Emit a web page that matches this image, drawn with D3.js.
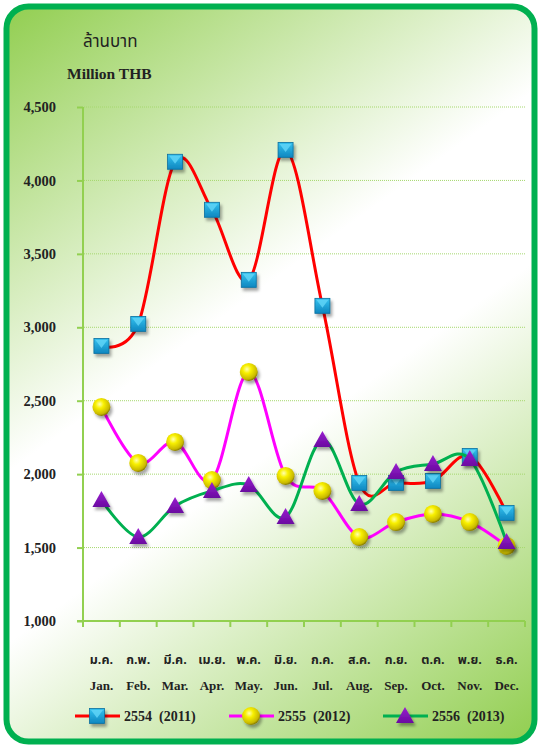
<!DOCTYPE html>
<html><head><meta charset="utf-8">
<script src="https://cdn.jsdelivr.net/npm/d3@7"></script>
<style>html,body{margin:0;padding:0;background:#fff;}svg{display:block;}</style>
</head><body>
<script>
const monthsTh = ["ม.ค.","ก.พ.","มี.ค.","เม.ย.","พ.ค.","มิ.ย.","ก.ค.","ส.ค.","ก.ย.","ต.ค.","พ.ย.","ธ.ค."];
const monthsEn = ["Jan.","Feb.","Mar.","Apr.","May.","Jun.","Jul.","Aug.","Sep.","Oct.","Nov.","Dec."];
const y2554 = [2873, 3023, 4127, 3800, 3323, 4208, 3146, 1940, 1940, 1954, 2124, 1736];
const y2555 = [2458, 2076, 2219, 1960, 2696, 1988, 1886, 1572, 1674, 1729, 1674, 1511];
const y2556 = [1824, 1572, 1783, 1886, 1926, 1708, 2233, 1797, 2015, 2069, 2103, 1538];
const yTicks = [1000, 1500, 2000, 2500, 3000, 3500, 4000, 4500];
const seriesNames = ["2554  (2011)", "2555  (2012)", "2556  (2013)"];

const W = 541, H = 746;
const svg = d3.select("body").append("svg").attr("width", W).attr("height", H);
const defs = svg.append("defs");

const bg = defs.append("linearGradient").attr("id","bg").attr("gradientUnits","userSpaceOnUse")
  .attr("x1",0).attr("y1",0).attr("x2",541).attr("y2",746);
[[0,"#8fcd4c"],[0.42,"#ffffff"],[0.57,"#ffffff"],[1,"#8fcd4c"]].forEach(s=>bg.append("stop").attr("offset",s[0]).attr("stop-color",s[1]));

const sq = defs.append("linearGradient").attr("id","sq").attr("x1",0).attr("y1",0).attr("x2",0).attr("y2",1);
[[0,"#35c3f0"],[1,"#0e86bf"]].forEach(s=>sq.append("stop").attr("offset",s[0]).attr("stop-color",s[1]));
const ball = defs.append("radialGradient").attr("id","ball").attr("cx",0.4).attr("cy",0.35).attr("r",0.65);
[[0,"#ffffb0"],[0.35,"#f8f000"],[0.85,"#c8b800"],[1,"#8a7e00"]].forEach(s=>ball.append("stop").attr("offset",s[0]).attr("stop-color",s[1]));
const tri = defs.append("linearGradient").attr("id","tri").attr("x1",0).attr("y1",0).attr("x2",0).attr("y2",1);
[[0,"#9a1ed0"],[1,"#6a0aa0"]].forEach(s=>tri.append("stop").attr("offset",s[0]).attr("stop-color",s[1]));
const sh = defs.append("filter").attr("id","sh").attr("x","-50%").attr("y","-50%").attr("width","200%").attr("height","200%");
sh.append("feDropShadow").attr("dx",2).attr("dy",3).attr("stdDeviation",1.5).attr("flood-color","#000").attr("flood-opacity",0.35);

// frame
svg.append("rect").attr("x",6.5).attr("y",6.5).attr("width",528).attr("height",735).attr("rx",22)
  .attr("fill","url(#bg)").attr("stroke","#00b050").attr("stroke-width",6);

const x = d3.scaleBand().domain(d3.range(12)).range([83, 525]);
const y = d3.scaleLinear().domain([1000, 4500]).range([621, 107]);
const cx = i => x(i) + x.bandwidth()/2;

const serif = "'Liberation Serif','Times New Roman',serif";
const thaiFont = "'Noto Sans Thai','Loma','Garuda','Tlwg Typo','Noto Sans','DejaVu Sans',sans-serif";

// grid
svg.append("g").selectAll("line").data(yTicks.slice(1)).join("line")
  .attr("x1",84).attr("x2",525).attr("y1",d=>y(d)).attr("y2",d=>y(d))
  .attr("stroke","#a6d86e").attr("stroke-width",1).attr("stroke-dasharray","1,1");

// y axis
const yAxis = svg.append("g").attr("transform","translate(83,0)")
  .call(d3.axisLeft(y).tickValues(yTicks).tickFormat(d3.format(",")).tickSize(6).tickPadding(21));
yAxis.select(".domain").attr("stroke","#92d050").attr("stroke-width",2).attr("d","M0,107V627");
yAxis.selectAll(".tick line").attr("stroke","#92d050").attr("stroke-width",2);
yAxis.selectAll(".tick text").attr("font-family",serif).attr("font-weight","bold").attr("font-size",14.5).attr("fill","#222");

// x axis
const xAxis = svg.append("g").attr("transform","translate(0,621)");
xAxis.append("line").attr("x1",77).attr("x2",525).attr("y1",0).attr("y2",0).attr("stroke","#92d050").attr("stroke-width",2);
xAxis.selectAll("line.t").data(d3.range(1,13)).join("line").attr("class","t")
  .attr("x1",i=>x(0)+i*x.bandwidth()).attr("x2",i=>x(0)+i*x.bandwidth()).attr("y1",0).attr("y2",6)
  .attr("stroke","#92d050").attr("stroke-width",2);
svg.append("g").selectAll("text").data(monthsTh).join("text")
  .attr("x",(d,i)=>cx(i)).attr("y",664).attr("text-anchor","middle")
  .attr("font-family",thaiFont).attr("font-weight","bold").attr("font-size",12.5).attr("fill","#222").text(d=>d);
svg.append("g").selectAll("text").data(monthsEn).join("text")
  .attr("x",(d,i)=>cx(i)).attr("y",690).attr("text-anchor","middle")
  .attr("font-family",serif).attr("font-weight","bold").attr("font-size",13).attr("fill","#222").text(d=>d);

// titles
svg.append("text").attr("x",83).attr("y",47).attr("font-family",thaiFont).attr("font-size",17).attr("fill","#222").text("ล้านบาท");
svg.append("text").attr("x",67).attr("y",79).attr("font-family",serif).attr("font-weight","bold").attr("font-size",15.5).attr("fill","#222").text("Million THB");

// markers
function drawSquare(g, px, py) {
  const s = 15;
  const m = g.append("g").attr("transform",`translate(${px},${py})`).attr("filter","url(#sh)");
  m.append("rect").attr("x",-s/2).attr("y",-s/2).attr("width",s).attr("height",s).attr("fill","url(#sq)").attr("stroke","#0b6f9e").attr("stroke-width",0.8);
  m.append("path").attr("d",`M${-s/2+1.5},${-s/2+1.5}L${s/2-1.5},${-s/2+1.5}L0,2Z`).attr("fill","#63d6f8").attr("opacity",0.8);
}
function drawBall(g, px, py) {
  g.append("circle").attr("cx",px).attr("cy",py).attr("r",9).attr("fill","url(#ball)").attr("filter","url(#sh)");
}
function drawTri(g, px, py) {
  g.append("path").attr("transform",`translate(${px},${py})`).attr("d","M0,-9L9,7L-9,7Z").attr("fill","url(#tri)").attr("filter","url(#sh)");
}

const series = [
  {data:y2554, color:"#ff0000", marker:drawSquare},
  {data:y2555, color:"#ff00ff", marker:drawBall},
  {data:y2556, color:"#00b050", marker:drawTri}
];
const line = d3.line().x((d,i)=>cx(i)).y(d=>y(d)).curve(d3.curveCardinal.tension(0));
series.forEach(s=>{
  const g = svg.append("g");
  g.append("path").datum(s.data).attr("d",line).attr("fill","none").attr("stroke",s.color).attr("stroke-width",3);
  s.data.forEach((v,i)=>s.marker(g, cx(i), y(v)));
});

// legend
const lx = [75, 229, 383];
series.forEach((s,k)=>{
  const g = svg.append("g");
  g.append("line").attr("x1",lx[k]).attr("x2",lx[k]+45).attr("y1",716).attr("y2",716).attr("stroke",s.color).attr("stroke-width",3);
  s.marker(g, lx[k]+22, 716);
  g.append("text").attr("x",lx[k]+49).attr("y",721).attr("font-family",serif).attr("font-weight","bold").attr("font-size",14).attr("fill","#222")
    .attr("xml:space","preserve").style("white-space","pre").text(seriesNames[k]);
});
</script>
</body></html>
